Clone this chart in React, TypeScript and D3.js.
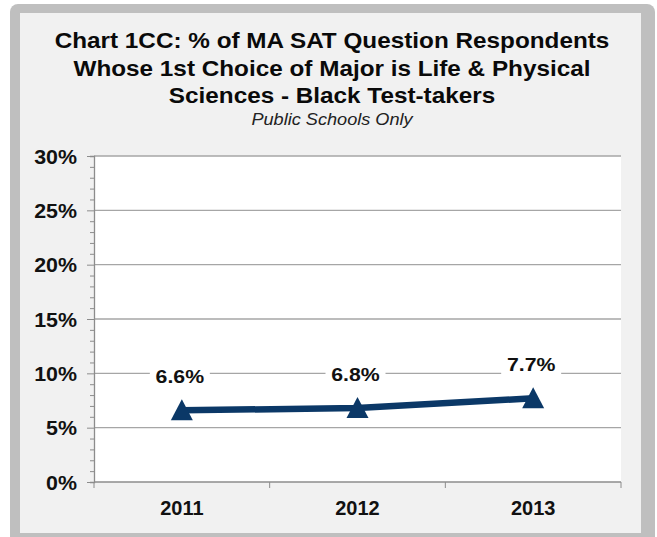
import React, { useRef, useEffect } from 'react';
import * as d3 from 'd3';

const years = ['2011', '2012', '2013'];
const values = [6.6, 6.8, 7.7];
const yTicks = [0, 5, 10, 15, 20, 25, 30];
const titleLines = [
  'Chart 1CC: % of MA SAT Question Respondents',
  'Whose 1st Choice of Major is Life & Physical',
  'Sciences - Black Test-takers',
];
const subtitle = 'Public Schools Only';

const W = 657;
const H = 537;
const SX = 1.1; // the original picture is a bit stretched sideways

const App = () => {
  const ref = useRef<SVGSVGElement>(null);

  useEffect(() => {
    const svg = d3.select(ref.current);
    svg.selectAll('*').remove();

    const font = 'Liberation Sans, Arial, sans-serif';
    const left = 94, right = 621, top = 156, bottom = 482;
    const navy = '#0b3867';

    // stretched text helper
    const txt = (g: any, x: number, y: number, s: string, size: number, anchor: string, opts: any = {}) => {
      const gg = g.append('g').attr('transform', `translate(${x},${y}) scale(${opts.sx ?? SX},1)`);
      return gg.append('text')
        .attr('text-anchor', anchor)
        .attr('font-family', font)
        .attr('font-weight', opts.italic ? 'normal' : 'bold')
        .attr('font-style', opts.italic ? 'italic' : 'normal')
        .attr('font-size', size)
        .attr('fill', opts.fill ?? '#111')
        .text(s);
    };

    // frame
    svg.append('rect').attr('width', W).attr('height', H).attr('fill', '#fff');
    svg.append('rect').attr('x', 10).attr('y', 4).attr('width', 645).attr('height', 545)
      .attr('rx', 8).attr('fill', '#bfbfbf');
    svg.append('rect').attr('x', 20).attr('y', 13).attr('width', 621).attr('height', 520)
      .attr('fill', '#f1f1f1');

    // title
    titleLines.forEach((l, i) => txt(svg, 332, 48 + i * 27.5, l, 21.5, 'middle', { sx: 1.13, fill: '#0a0a0a' }));
    txt(svg, 332, 125, subtitle, 16.5, 'middle', { italic: true, fill: '#222' });

    const x = d3.scaleBand().domain(years).range([left, right]);
    const y = d3.scaleLinear().domain([0, 30]).range([bottom, top]);

    svg.append('rect')
      .attr('x', left).attr('y', top).attr('width', right - left).attr('height', bottom - top)
      .attr('fill', '#fff');

    // gridlines
    svg.append('g').selectAll('line').data(yTicks.filter(d => d > 0)).join('line')
      .attr('x1', left).attr('x2', right)
      .attr('y1', d => y(d)).attr('y2', d => y(d))
      .attr('stroke', '#a6a6a6').attr('stroke-width', 1.3);

    // y axis with minor ticks every 1%
    const yAxis = svg.append('g')
      .attr('transform', `translate(${left},0)`)
      .call(d3.axisLeft(y).tickValues(d3.range(0, 31, 1)).tickSize(4).tickFormat(() => ''));
    yAxis.selectAll('.tick line').attr('stroke', '#8c8c8c');
    yAxis.selectAll('.tick').filter((d: any) => d % 5 === 0).select('line').attr('x2', -7);
    yAxis.select('.domain').attr('stroke', '#8c8c8c').attr('stroke-width', 1.3);

    yTicks.forEach(d => txt(svg, 77, y(d) + 7.5, `${d}%`, 20, 'end', { sx: 1.07 }));

    // x axis
    svg.append('line').attr('x1', left).attr('x2', right).attr('y1', bottom).attr('y2', bottom)
      .attr('stroke', '#8c8c8c').attr('stroke-width', 1.3);
    const bounds = [left, ...years.map(d => (x(d) as number) + x.bandwidth())];
    svg.append('g').selectAll('line').data(bounds).join('line')
      .attr('x1', d => d).attr('x2', d => d).attr('y1', bottom).attr('y2', bottom + 6)
      .attr('stroke', '#8c8c8c');
    years.forEach(d => txt(svg, (x(d) as number) + x.bandwidth() / 2, 515, d, 20, 'middle', { sx: 1 }));

    const cx = (i: number) => (x(years[i]) as number) + x.bandwidth() / 2;

    // line
    const line = d3.line<number>().x((d, i) => cx(i)).y(d => y(d));
    svg.append('path').datum(values)
      .attr('d', line)
      .attr('fill', 'none').attr('stroke', navy).attr('stroke-width', 6.5);

    // triangle markers
    svg.append('g').selectAll('path').data(values).join('path')
      .attr('transform', (d, i) => `translate(${cx(i)},${y(d)})`)
      .attr('d', 'M0,-11L11,10L-11,10Z')
      .attr('fill', navy);

    // data labels with white boxes
    values.forEach((v, i) => {
      const lx = cx(i) - 2;
      const ly = y(v) - 27;
      svg.append('rect').attr('x', lx - 30).attr('y', ly - 19).attr('width', 60).attr('height', 26).attr('fill', '#fff');
      txt(svg, lx, ly, `${v.toFixed(1)}%`, 19, 'middle', { sx: 1.12 });
    });
  }, []);

  return (
    <svg ref={ref} width={W} height={H} style={{ display: 'block', position: 'absolute', left: 0, top: 0 }}></svg>
  );
};

export default App;
